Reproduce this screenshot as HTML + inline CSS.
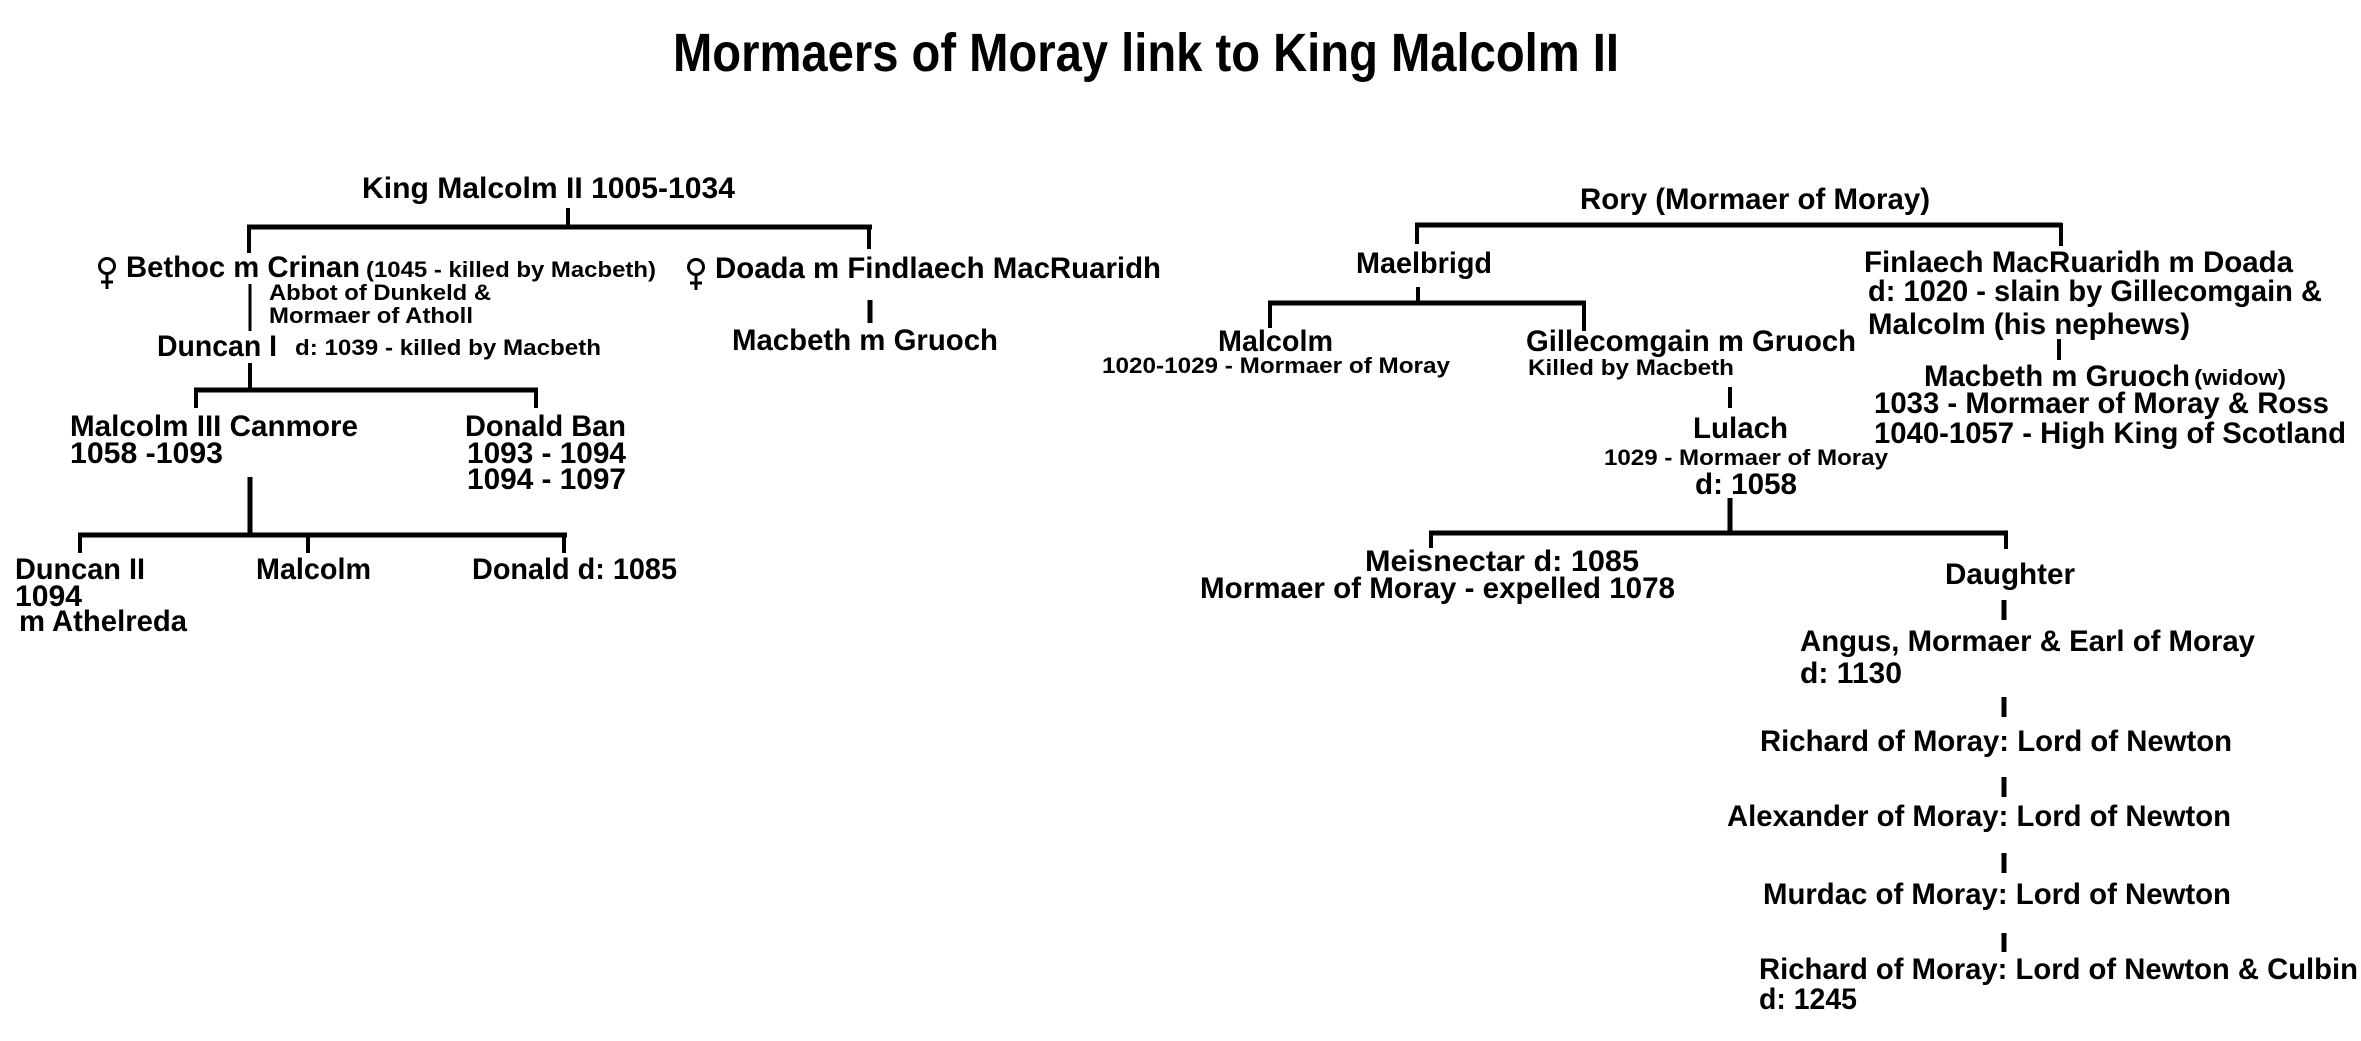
<!DOCTYPE html>
<html><head><meta charset="utf-8"><style>
html,body{margin:0;padding:0;background:#fff;}
svg{display:block;}
text{font-family:"Liberation Sans",Arial,sans-serif;font-weight:bold;fill:#000;}
.m{font-size:30px;}
.s{font-size:22px;}
</style></head><body>
<svg width="2361" height="1041" viewBox="0 0 2361 1041" xmlns="http://www.w3.org/2000/svg">
<rect width="2361" height="1041" fill="#fff"/>
<text x="673" y="71" style="font-size:54px" textLength="946" lengthAdjust="spacingAndGlyphs">Mormaers of Moray link to King Malcolm II</text>

<g stroke="#000" fill="none">
<line x1="568" y1="208" x2="568" y2="228" stroke-width="4"/>
<line x1="247" y1="227" x2="872" y2="227" stroke-width="5"/>
<line x1="249" y1="225" x2="249" y2="253" stroke-width="4"/>
<line x1="869" y1="225" x2="869" y2="249" stroke-width="4"/>
<line x1="250" y1="284" x2="250" y2="331" stroke-width="3"/>
<line x1="870" y1="300" x2="870" y2="323" stroke-width="5"/>
<line x1="250" y1="363" x2="250" y2="391" stroke-width="4"/>
<line x1="194" y1="390" x2="538" y2="390" stroke-width="5"/>
<line x1="196" y1="388" x2="196" y2="408" stroke-width="4"/>
<line x1="536" y1="388" x2="536" y2="408" stroke-width="4"/>
<line x1="250" y1="477" x2="250" y2="536" stroke-width="5"/>
<line x1="78" y1="535" x2="567" y2="535" stroke-width="5"/>
<line x1="80" y1="533" x2="80" y2="553" stroke-width="4"/>
<line x1="308" y1="533" x2="308" y2="553" stroke-width="4"/>
<line x1="564" y1="533" x2="564" y2="553" stroke-width="4"/>
<line x1="1415" y1="225" x2="2062" y2="225" stroke-width="5"/>
<line x1="1417" y1="223" x2="1417" y2="244" stroke-width="4"/>
<line x1="2061" y1="223" x2="2061" y2="246" stroke-width="4"/>
<line x1="1418" y1="287" x2="1418" y2="304" stroke-width="4"/>
<line x1="1268" y1="303" x2="1586" y2="303" stroke-width="5"/>
<line x1="1270" y1="301" x2="1270" y2="328" stroke-width="4"/>
<line x1="1584" y1="301" x2="1584" y2="331" stroke-width="4"/>
<line x1="2059" y1="339" x2="2059" y2="360" stroke-width="4"/>
<line x1="1730" y1="387" x2="1730" y2="408" stroke-width="4"/>
<line x1="1730" y1="498" x2="1730" y2="534" stroke-width="5"/>
<line x1="1429" y1="533" x2="2008" y2="533" stroke-width="5"/>
<line x1="1431" y1="531" x2="1431" y2="548" stroke-width="4"/>
<line x1="2006" y1="531" x2="2006" y2="549" stroke-width="4"/>
<line x1="2004" y1="600" x2="2004" y2="620" stroke-width="5"/>
<line x1="2004" y1="697" x2="2004" y2="717" stroke-width="5"/>
<line x1="2004" y1="777" x2="2004" y2="797" stroke-width="5"/>
<line x1="2004" y1="853" x2="2004" y2="873" stroke-width="5"/>
<line x1="2004" y1="933" x2="2004" y2="952" stroke-width="5"/>
<!-- female symbols -->
<circle cx="107" cy="266" r="7.5" stroke-width="3"/>
<line x1="107" y1="274" x2="107" y2="289" stroke-width="3"/>
<line x1="101" y1="282" x2="113" y2="282" stroke-width="3"/>
<circle cx="696" cy="267" r="7.5" stroke-width="3"/>
<line x1="696" y1="275" x2="696" y2="290" stroke-width="3"/>
<line x1="690" y1="283" x2="702" y2="283" stroke-width="3"/>
</g>

<text class="m" x="362" y="198" textLength="373" lengthAdjust="spacingAndGlyphs">King Malcolm II  1005-1034</text>
<text class="m" x="126" y="277" textLength="234" lengthAdjust="spacingAndGlyphs">Bethoc m Crinan</text>
<text class="s" x="366" y="277" textLength="290" lengthAdjust="spacingAndGlyphs">(1045 - killed by Macbeth)</text>
<text class="s" x="269" y="300" textLength="222" lengthAdjust="spacingAndGlyphs">Abbot of Dunkeld &amp;</text>
<text class="s" x="269" y="323" textLength="204" lengthAdjust="spacingAndGlyphs">Mormaer of Atholl</text>
<text class="m" x="157" y="356" textLength="120" lengthAdjust="spacingAndGlyphs">Duncan I</text>
<text class="s" x="295" y="355" textLength="306" lengthAdjust="spacingAndGlyphs">d: 1039 - killed by Macbeth</text>
<text class="m" x="715" y="278" textLength="446" lengthAdjust="spacingAndGlyphs">Doada m Findlaech MacRuaridh</text>
<text class="m" x="732" y="350" textLength="266" lengthAdjust="spacingAndGlyphs">Macbeth m Gruoch</text>
<text class="m" x="70" y="436" textLength="288" lengthAdjust="spacingAndGlyphs">Malcolm III Canmore</text>
<text class="m" x="70" y="463" textLength="153" lengthAdjust="spacingAndGlyphs">1058 -1093</text>
<text class="m" x="465" y="436" textLength="161" lengthAdjust="spacingAndGlyphs">Donald Ban</text>
<text class="m" x="467" y="463" textLength="159" lengthAdjust="spacingAndGlyphs">1093 - 1094</text>
<text class="m" x="467" y="489" textLength="159" lengthAdjust="spacingAndGlyphs">1094 - 1097</text>
<text class="m" x="15" y="579" textLength="130" lengthAdjust="spacingAndGlyphs">Duncan II</text>
<text class="m" x="15" y="606" textLength="67" lengthAdjust="spacingAndGlyphs">1094</text>
<text class="m" x="19" y="631" textLength="168" lengthAdjust="spacingAndGlyphs">m Athelreda</text>
<text class="m" x="256" y="579" textLength="115" lengthAdjust="spacingAndGlyphs">Malcolm</text>
<text class="m" x="472" y="579" textLength="205" lengthAdjust="spacingAndGlyphs">Donald d: 1085</text>

<text class="m" x="1580" y="209" textLength="350" lengthAdjust="spacingAndGlyphs">Rory (Mormaer of Moray)</text>
<text class="m" x="1356" y="273" textLength="136" lengthAdjust="spacingAndGlyphs">Maelbrigd</text>
<text class="m" x="1864" y="272" textLength="429" lengthAdjust="spacingAndGlyphs">Finlaech MacRuaridh m Doada</text>
<text class="m" x="1868" y="301" textLength="454" lengthAdjust="spacingAndGlyphs">d: 1020 - slain by Gillecomgain &amp;</text>
<text class="m" x="1868" y="334" textLength="322" lengthAdjust="spacingAndGlyphs">Malcolm (his nephews)</text>
<text class="m" x="1924" y="386" textLength="266" lengthAdjust="spacingAndGlyphs">Macbeth m Gruoch</text>
<text class="s" x="2194" y="385" textLength="92" lengthAdjust="spacingAndGlyphs">(widow)</text>
<text class="m" x="1874" y="413" textLength="455" lengthAdjust="spacingAndGlyphs">1033 - Mormaer of Moray &amp; Ross</text>
<text class="m" x="1874" y="443" textLength="472" lengthAdjust="spacingAndGlyphs">1040-1057 - High King of Scotland</text>
<text class="m" x="1218" y="351" textLength="115" lengthAdjust="spacingAndGlyphs">Malcolm</text>
<text class="s" x="1102" y="373" textLength="348" lengthAdjust="spacingAndGlyphs">1020-1029 - Mormaer of Moray</text>
<text class="m" x="1526" y="351" textLength="330" lengthAdjust="spacingAndGlyphs">Gillecomgain m Gruoch</text>
<text class="s" x="1528" y="375" textLength="206" lengthAdjust="spacingAndGlyphs">Killed by Macbeth</text>
<text class="m" x="1693" y="438" textLength="95" lengthAdjust="spacingAndGlyphs">Lulach</text>
<text class="s" x="1604" y="465" textLength="284" lengthAdjust="spacingAndGlyphs">1029 - Mormaer of Moray</text>
<text class="m" x="1695" y="494" textLength="102" lengthAdjust="spacingAndGlyphs">d: 1058</text>
<text class="m" x="1365" y="571" textLength="274" lengthAdjust="spacingAndGlyphs">Meisnectar  d: 1085</text>
<text class="m" x="1200" y="598" textLength="475" lengthAdjust="spacingAndGlyphs">Mormaer of Moray - expelled 1078</text>
<text class="m" x="1945" y="584" textLength="130" lengthAdjust="spacingAndGlyphs">Daughter</text>
<text class="m" x="1800" y="651" textLength="455" lengthAdjust="spacingAndGlyphs">Angus, Mormaer &amp; Earl of Moray</text>
<text class="m" x="1800" y="683" textLength="102" lengthAdjust="spacingAndGlyphs">d: 1130</text>
<text class="m" x="1760" y="751" textLength="472" lengthAdjust="spacingAndGlyphs">Richard of Moray: Lord of Newton</text>
<text class="m" x="1727" y="826" textLength="504" lengthAdjust="spacingAndGlyphs">Alexander of Moray: Lord of Newton</text>
<text class="m" x="1763" y="904" textLength="468" lengthAdjust="spacingAndGlyphs">Murdac of Moray: Lord of Newton</text>
<text class="m" x="1759" y="979" textLength="599" lengthAdjust="spacingAndGlyphs">Richard of Moray: Lord of Newton &amp; Culbin</text>
<text class="m" x="1759" y="1009" textLength="98" lengthAdjust="spacingAndGlyphs">d: 1245</text>
</svg>
</body></html>
